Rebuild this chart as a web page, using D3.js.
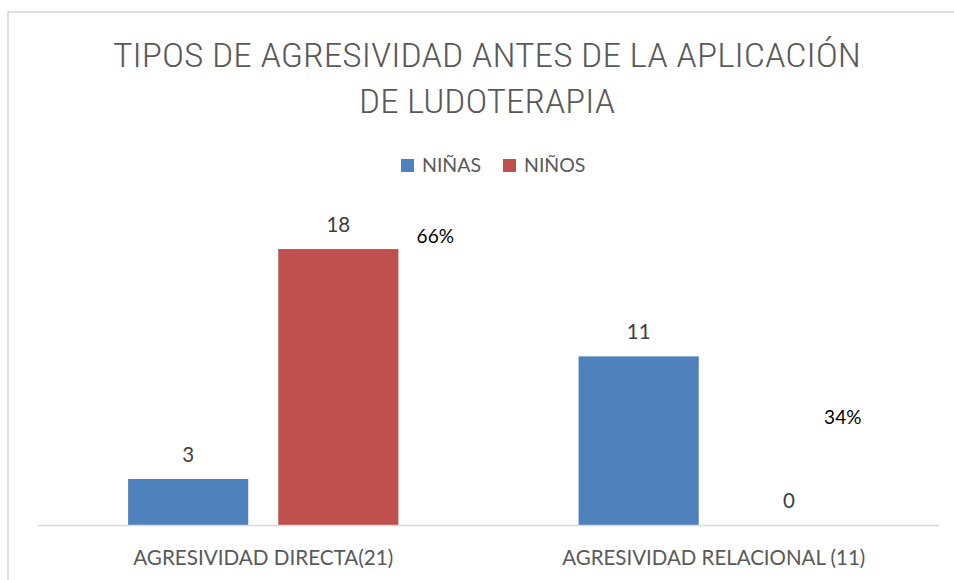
<!DOCTYPE html>
<html>
<head>
<meta charset="utf-8">
<script src="https://cdn.jsdelivr.net/npm/d3@7"></script>
<style>
  body { margin: 0; background: #fff; }
  svg text { font-family: Lato, "Open Sans", sans-serif; }
  svg text.title { font-family: "Roboto Condensed", Lato, sans-serif; font-weight: 300; }
</style>
</head>
<body>
<div id="chart"></div>
<script>

// chart data
const categories = ["AGRESIVIDAD DIRECTA(21)", "AGRESIVIDAD RELACIONAL (11)"];
const series = ["NIÑAS", "NIÑOS"];
const ninas = [3, 11];
const ninos = [18, 0];
const percentLabels = ["66%", "34%"];
const percentValues = [18.4, 6.6];   // where the percent text boxes sit, in data units
const titleLines = ["TIPOS DE AGRESIVIDAD ANTES DE LA APLICACIÓN", "DE LUDOTERAPIA"];

const colors = {"NIÑAS": "#4f81bd", "NIÑOS": "#c0504d"};

const width = 954, height = 580;
const plot = {left: 38, right: 939, bottom: 525};

const svg = d3.select("#chart").append("svg")
    .attr("width", width)
    .attr("height", height);

// outer chart frame (runs off the right / bottom edge)
svg.append("rect")
    .attr("x", 8).attr("y", 12)
    .attr("width", 980).attr("height", 620)
    .attr("fill", "none")
    .attr("stroke", "#d9d9d9")
    .attr("stroke-width", 1.6);

// squeeze / stretch a text node to a target width
function fitWidth(sel, w) {
    sel.each(function() {
        const len = this.getComputedTextLength();
        if (Math.abs(len - w) > 1) {
            d3.select(this).attr("textLength", w).attr("lengthAdjust", "spacingAndGlyphs");
        }
    });
}

// scales
const x0 = d3.scaleBand()
    .domain(categories)
    .range([plot.left, plot.right]);

const x1 = d3.scaleBand()
    .domain(series)
    .range([0, x0.bandwidth()])
    .paddingInner(0.2)
    .paddingOuter(0.6);

const y = d3.scaleLinear()
    .domain([0, 20])
    .range([plot.bottom, plot.bottom - 20 * 15.33]);

const rows = categories.map((c, i) => ({
    category: c,
    values: [{key: "NIÑAS", value: ninas[i]}, {key: "NIÑOS", value: ninos[i]}]
}));

// title
const titleWidths = [748, 256];
svg.selectAll(".title")
    .data(titleLines)
    .join("text")
    .attr("class", "title")
    .attr("x", 487)
    .attr("y", (d, i) => 66.7 + i * 46.6)
    .attr("text-anchor", "middle")
    .attr("fill", "#595959")
    .attr("font-size", 33)
    .text(d => d)
    .each(function(d, i) { fitWidth(d3.select(this), titleWidths[i]); });

// legend
const legendX = [401, 503];
const legendW = [59, 61];
const legend = svg.selectAll(".legend")
    .data(series)
    .join("g")
    .attr("class", "legend")
    .attr("transform", (d, i) => "translate(" + legendX[i] + ",159)");

legend.append("rect")
    .attr("width", 13).attr("height", 13)
    .attr("fill", d => colors[d]);

legend.append("text")
    .attr("x", 21).attr("y", 13)
    .attr("fill", "#595959")
    .attr("font-size", 19.5)
    .text(d => d)
    .each(function(d, i) { fitWidth(d3.select(this), legendW[i]); });

// bars
const groups = svg.selectAll(".group")
    .data(rows)
    .join("g")
    .attr("class", "group")
    .attr("transform", d => "translate(" + x0(d.category) + ",0)");

groups.selectAll("rect")
    .data(d => d.values)
    .join("rect")
    .attr("x", d => x1(d.key))
    .attr("y", d => y(d.value))
    .attr("width", x1.bandwidth())
    .attr("height", d => y(0) - y(d.value))
    .attr("fill", d => colors[d.key]);

// value labels
groups.selectAll(".val")
    .data(d => d.values)
    .join("text")
    .attr("class", "val")
    .attr("x", d => x1(d.key) + x1.bandwidth() / 2)
    .attr("y", d => y(d.value) - 17)
    .attr("text-anchor", "middle")
    .attr("fill", "#404040")
    .attr("font-size", 20.5)
    .text(d => d.value);

// percent annotations
const pctOffset = [172, 129];
svg.selectAll(".pct")
    .data(percentLabels)
    .join("text")
    .attr("class", "pct")
    .attr("x", (d, i) => x0(categories[i]) + x0.bandwidth() / 2 + pctOffset[i])
    .attr("y", (d, i) => y(percentValues[i]))
    .attr("text-anchor", "middle")
    .attr("fill", "#000")
    .attr("font-size", 19)
    .text(d => d);

// x axis line
svg.append("line")
    .attr("x1", plot.left).attr("x2", plot.right)
    .attr("y1", y(0) + 0.5).attr("y2", y(0) + 0.5)
    .attr("stroke", "#d9d9d9")
    .attr("stroke-width", 1.6);

// category labels
const catW = [260, 303];
svg.selectAll(".cat")
    .data(categories)
    .join("text")
    .attr("class", "cat")
    .attr("x", d => x0(d) + x0.bandwidth() / 2)
    .attr("y", 565)
    .attr("text-anchor", "middle")
    .attr("fill", "#595959")
    .attr("font-size", 21.5)
    .text(d => d)
    .each(function(d, i) { fitWidth(d3.select(this), catW[i]); });

</script>
</body>
</html>
